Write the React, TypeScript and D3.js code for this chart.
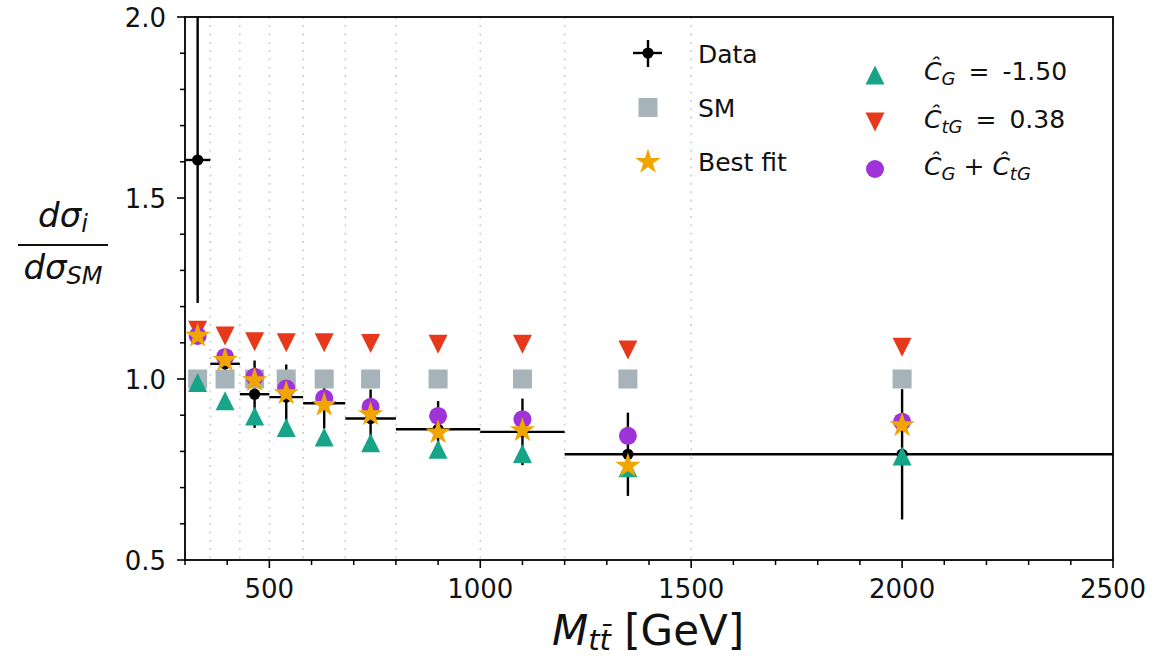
import React from "react";
import * as d3 from "d3";

const binEdges = [300, 360, 430, 500, 580, 680, 800, 1000, 1200, 1500, 2500];
const binCenters = [330, 395, 465, 540, 630, 740, 900, 1100, 1350, 2000];
const dataVals = [1.605, 1.042, 0.958, 0.95, 0.933, 0.891, 0.861, 0.854, 0.792, 0.792];
const dataErr = [0.395, 0.03, 0.093, 0.09, 0.07, 0.08, 0.078, 0.092, 0.115, 0.18];
const smVals = [1.0, 1.0, 1.0, 1.0, 1.0, 1.0, 1.0, 1.0, 1.0, 1.0];
const cgVals = [0.99, 0.94, 0.898, 0.866, 0.84, 0.824, 0.806, 0.794, 0.755, 0.787];
const ctgVals = [1.135, 1.119, 1.103, 1.1, 1.1, 1.098, 1.096, 1.096, 1.08, 1.088];
const combVals = [1.119, 1.061, 1.006, 0.974, 0.947, 0.923, 0.898, 0.889, 0.843, 0.882];
const bestVals = [1.119, 1.052, 0.996, 0.96, 0.928, 0.902, 0.852, 0.858, 0.76, 0.872];

const xMajor = [500, 1000, 1500, 2000, 2500];
const xMinor = d3.range(300, 2501, 100).filter((v) => v % 500 !== 0);
const yMajor = [0.5, 1.0, 1.5, 2.0];
const yMinor = [0.6, 0.7, 0.8, 0.9, 1.1, 1.2, 1.3, 1.4, 1.6, 1.7, 1.8, 1.9];
const gridEdges = [360, 430, 500, 580, 680, 800, 1000, 1200, 1500];

const C_GREEN = "#17a589";
const C_RED = "#e8381b";
const C_PURPLE = "#a032da";
const C_ORANGE = "#f0a500";
const C_GRAY = "#a6b4ba";

const FONT = "DejaVu Sans, sans-serif";

const W = 1154;
const H = 656;
const L = 185, R = 1113, T = 17, B = 560;

const x = d3.scaleLinear().domain([300, 2500]).range([L, R]);
const y = d3.scaleLinear().domain([0.5, 2.0]).range([B, T]);

const MS = 19;
const triUp = (cx: number, cy: number, s: number) =>
  `M${cx},${cy - s / 2}L${cx - s / 2},${cy + s / 2}L${cx + s / 2},${cy + s / 2}Z`;
const triDown = (cx: number, cy: number, s: number) =>
  `M${cx},${cy + s / 2}L${cx - s / 2},${cy - s / 2}L${cx + s / 2},${cy - s / 2}Z`;
const starPath = d3.symbol().type(d3.symbolStar).size(200);

export default function App() {
  return (
    <svg
      width={W}
      height={H}
      style={{ position: "absolute", left: 0, top: 0, background: "#fff" }}
      fontFamily={FONT}
    >
      <defs>
        <clipPath id="plotclip">
          <rect x={L} y={T} width={R - L} height={B - T} />
        </clipPath>
      </defs>
      <rect x={0} y={0} width={W} height={H} fill="#fff" />

      {/* dotted bin edges */}
      {gridEdges.map((e) => (
        <line
          key={"g" + e}
          x1={x(e)}
          x2={x(e)}
          y1={T}
          y2={B}
          stroke="#bfd0cf"
          strokeWidth={1.6}
          strokeDasharray="1.8,6.5"
        />
      ))}

      <g clipPath="url(#plotclip)">
        {/* data */}
        {binCenters.map((c, i) => (
          <g key={"d" + i}>
            <line
              x1={x(binEdges[i])}
              x2={x(binEdges[i + 1])}
              y1={y(dataVals[i])}
              y2={y(dataVals[i])}
              stroke="#000"
              strokeWidth={2.4}
            />
            <line
              x1={x(c)}
              x2={x(c)}
              y1={y(dataVals[i] - dataErr[i])}
              y2={y(dataVals[i] + dataErr[i])}
              stroke="#000"
              strokeWidth={2.4}
            />
            <circle cx={x(c)} cy={y(dataVals[i])} r={5.6} fill="#000" />
          </g>
        ))}
        {/* SM */}
        {binCenters.map((c, i) => (
          <rect
            key={"s" + i}
            x={x(c) - 9.5}
            y={y(smVals[i]) - 9.5}
            width={19}
            height={19}
            fill={C_GRAY}
          />
        ))}
        {/* CG */}
        {binCenters.map((c, i) => (
          <path key={"cg" + i} d={triUp(x(c), y(cgVals[i]), MS)} fill={C_GREEN} />
        ))}
        {/* CtG */}
        {binCenters.map((c, i) => (
          <path key={"ct" + i} d={triDown(x(c), y(ctgVals[i]), MS)} fill={C_RED} />
        ))}
        {/* combined */}
        {binCenters.map((c, i) => (
          <circle key={"cb" + i} cx={x(c)} cy={y(combVals[i])} r={9} fill={C_PURPLE} />
        ))}
        {/* best fit */}
        {binCenters.map((c, i) => (
          <path
            key={"bf" + i}
            d={starPath() as string}
            transform={`translate(${x(c)},${y(bestVals[i])})`}
            fill={C_ORANGE}
          />
        ))}
      </g>

      {/* spines */}
      <rect x={L} y={T} width={R - L} height={B - T} fill="none" stroke="#000" strokeWidth={1.8} />

      {/* x ticks */}
      {xMinor.map((v) => (
        <line key={"xm" + v} x1={x(v)} x2={x(v)} y1={B} y2={B + 5} stroke="#000" strokeWidth={1.5} />
      ))}
      {xMajor.map((v) => (
        <g key={"xM" + v}>
          <line x1={x(v)} x2={x(v)} y1={B} y2={B + 8} stroke="#000" strokeWidth={1.6} />
          <text x={x(v)} y={B + 38} textAnchor="middle" fontSize={26} fill="#111">
            {v}
          </text>
        </g>
      ))}
      {/* y ticks */}
      {yMinor.map((v) => (
        <line key={"ym" + v} x1={L - 5} x2={L} y1={y(v)} y2={y(v)} stroke="#000" strokeWidth={1.5} />
      ))}
      {yMajor.map((v) => (
        <g key={"yM" + v}>
          <line x1={L - 8} x2={L} y1={y(v)} y2={y(v)} stroke="#000" strokeWidth={1.6} />
          <text x={L - 19} y={y(v) + 9.5} textAnchor="end" fontSize={26} fill="#111">
            {v.toFixed(1)}
          </text>
        </g>
      ))}

      {/* x label */}
      <text x={648} y={645} textAnchor="middle" fontSize={42} fill="#111">
        <tspan fontStyle="italic">M</tspan>
        <tspan fontStyle="italic" fontSize={29} dy={5}>
          {"tt\u0304"}
        </tspan>
        <tspan dy={-5}>{" [GeV]"}</tspan>
      </text>

      {/* y label */}
      <text x={63} y={227} textAnchor="middle" fontSize={34} fill="#111">
        <tspan fontStyle="italic">dσ</tspan>
        <tspan fontStyle="italic" fontSize={24} dy={5}>
          i
        </tspan>
      </text>
      <line x1={18} x2={108} y1={245} y2={245} stroke="#111" strokeWidth={2.2} />
      <text x={63} y={279} textAnchor="middle" fontSize={34} fill="#111">
        <tspan fontStyle="italic">dσ</tspan>
        <tspan fontStyle="italic" fontSize={24} dy={5}>
          SM
        </tspan>
      </text>

      {/* legend column 1 */}
      <g>
        <line x1={633} x2={662} y1={53} y2={53} stroke="#000" strokeWidth={2.4} />
        <line x1={648} x2={648} y1={40} y2={67} stroke="#000" strokeWidth={2.4} />
        <circle cx={648} cy={53} r={5.6} fill="#000" />
        <text x={698} y={63} fontSize={25} fill="#111">Data</text>

        <rect x={638.5} y={98} width={19} height={19} fill={C_GRAY} />
        <text x={698} y={117} fontSize={25} fill="#111">SM</text>

        <path d={starPath() as string} transform="translate(648,162)" fill={C_ORANGE} />
        <text x={698} y={171} fontSize={25} fill="#111">Best fit</text>
      </g>
      {/* legend column 2 */}
      <g>
        <path d={triUp(875, 75, MS)} fill={C_GREEN} />
        <text x={924} y={80} fontSize={25} fill="#111">
          <tspan fontStyle="italic">{"\u0108"}</tspan>
          <tspan fontStyle="italic" fontSize={18} dy={5}>G</tspan>
          <tspan dy={-5} dx={13}>{"="}</tspan>
          <tspan dx={13}>{"-1.50"}</tspan>
        </text>

        <path d={triDown(875, 122, MS)} fill={C_RED} />
        <text x={924} y={128} fontSize={25} fill="#111">
          <tspan fontStyle="italic">{"\u0108"}</tspan>
          <tspan fontStyle="italic" fontSize={18} dy={5}>tG</tspan>
          <tspan dy={-5} dx={13}>{"="}</tspan>
          <tspan dx={13}>{"0.38"}</tspan>
        </text>

        <circle cx={875} cy={169} r={9} fill={C_PURPLE} />
        <text x={924} y={175} fontSize={25} fill="#111">
          <tspan fontStyle="italic">{"\u0108"}</tspan>
          <tspan fontStyle="italic" fontSize={18} dy={5}>G</tspan>
          <tspan dy={-5} dx={8}>{"+"}</tspan>
          <tspan fontStyle="italic" dx={8}>{"\u0108"}</tspan>
          <tspan fontStyle="italic" fontSize={18} dy={5}>tG</tspan>
        </text>
      </g>
    </svg>
  );
}
